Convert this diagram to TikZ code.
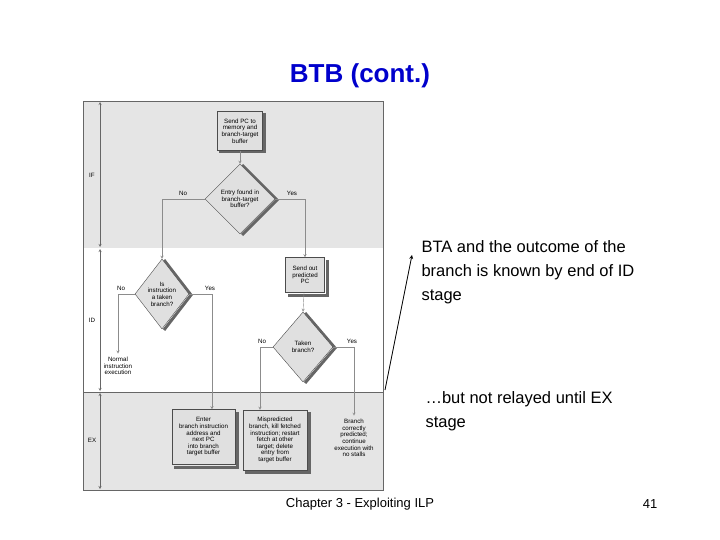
\documentclass[tikz,border=0pt]{standalone}
\usepackage{fontspec}
\setmainfont{Liberation Sans}
\usetikzlibrary{shapes.geometric}
\tikzset{
  box/.style={draw=black!70, fill=black!12, align=center, font=\fontsize{6.2}{6.6}\selectfont,
    inner sep=1pt},
  dia/.style={diamond, draw=black!70, fill=black!12, align=center, aspect=1,
    font=\fontsize{6.2}{6.6}\selectfont, inner sep=0pt},
  flow/.style={draw=black!45, ->, >=stealth},
  lab/.style={font=\fontsize{6.2}{6.6}\selectfont, align=center},
  shade/.style={line width=3pt, black!60}
}
\begin{document}
\begin{tikzpicture}[x=1pt,y=-1pt]
    \useasboundingbox (0,0) rectangle (720,540);
    % the stages
    \fill[black!10] (83,101) rectangle (383,248);
    \fill[black!10] (83,392) rectangle (383,490);
    \draw[black!60] (83,101) rectangle (383,490);
    \draw[black!60] (83,392) -- (383,392);
    \draw[black!60, <->, >=stealth] (100,102) -- (100,247);
    \draw[black!60, <->, >=stealth] (100,249) -- (100,391);
    \draw[black!60, <->, >=stealth] (100,393) -- (100,489);
    \node[lab] (if) at (92,175) {IF};
    \node[lab] (id) at (92,320) {ID};
    \node[lab] (ex) at (92,440) {EX};

    % the boxes and decisions
    \draw[shade] (264,113) -- (264,152) -- (219,152);
    \node[box, minimum width=45, minimum height=39] (send) at (240,131) {Send PC to\\memory and\\branch-target\\buffer};
    \draw[shade] (242,165) -- (277,200) -- (242,235);
    \node[dia, minimum width=70, minimum height=70] (found) at (240,199) {Entry found in\\branch-target\\buffer?};
    \draw[shade] (164,260) -- (191,295) -- (164,330);
    \node[dia, minimum width=54, minimum height=70] (taken) at (162,294) {Is\\instruction\\a taken\\branch?};
    \draw[shade] (327,260) -- (327,295) -- (288,295);
    \node[box, minimum width=39, minimum height=35] (pred) at (305,275) {Send out\\predicted\\PC};
    \draw[shade] (305,313) -- (335,348) -- (305,383);
    \node[dia, minimum width=60, minimum height=70] (tb) at (303,347) {Taken\\branch?};
    \draw[shade] (237,412) -- (237,467) -- (174,467);
    \node[box, minimum width=63, minimum height=55] (enter) at (203.5,437) {Enter\\branch instruction\\address and\\next PC\\into branch\\target buffer};
    \draw[shade] (309,412) -- (309,472) -- (245,472);
    \node[box, minimum width=64, minimum height=60] (mis) at (275,440) {Mispredicted\\branch, kill fetched\\instruction; restart\\fetch at other\\target; delete\\entry from\\target buffer};
    \node[lab] (normal) at (118,366) {Normal\\instruction\\execution};
    \node[lab] (ok) at (354,438) {Branch\\correctly\\predicted;\\continue\\execution with\\no stalls};

    % the connectors
    \draw[flow] (send) -- (found);
    \draw[flow] (found.west) -| (taken.north);
    \draw[flow] (found.east) -| (pred.north);
    \draw[flow] (taken.west) -| (normal.north);
    \draw[flow] (taken.east) -| (enter.north -| 212,0);
    \draw[flow] (pred) -- (tb.north);
    \draw[flow] (tb.west) -| (mis.north -| 260,0);
    \draw[flow] (tb.east) -| (ok.north);
    \node[lab] at (183,193) {No};
    \node[lab] at (292,193) {Yes};
    \node[lab] at (121,288) {No};
    \node[lab] at (210,288) {Yes};
    \node[lab] at (262,341) {No};
    \node[lab] at (352,341) {Yes};

    % the texts
    \node[font=\bfseries\fontsize{26}{30}\selectfont, text=blue!80!black] (title) at (360,76) {BTB (cont.)};
    \node[font=\fontsize{16.5}{24}\selectfont, align=left, anchor=north west] (bta) at (418,237) {BTA and the outcome of the\\branch is known by end of ID\\stage};
    \node[font=\fontsize{16.5}{24}\selectfont, align=left, anchor=north west] (relay) at (422,388) {\dots but not relayed until EX\\stage};
    \coordinate (tail) at (385,390);
    \draw[->, >=stealth, thick] (tail) -- (412,255);
    \node[font=\fontsize{13}{16}\selectfont] (chap) at (360,504) {Chapter 3 - Exploiting ILP};
    \node[font=\fontsize{13}{16}\selectfont] (num) at (650,504) {41};
\end{tikzpicture}
\end{document}
